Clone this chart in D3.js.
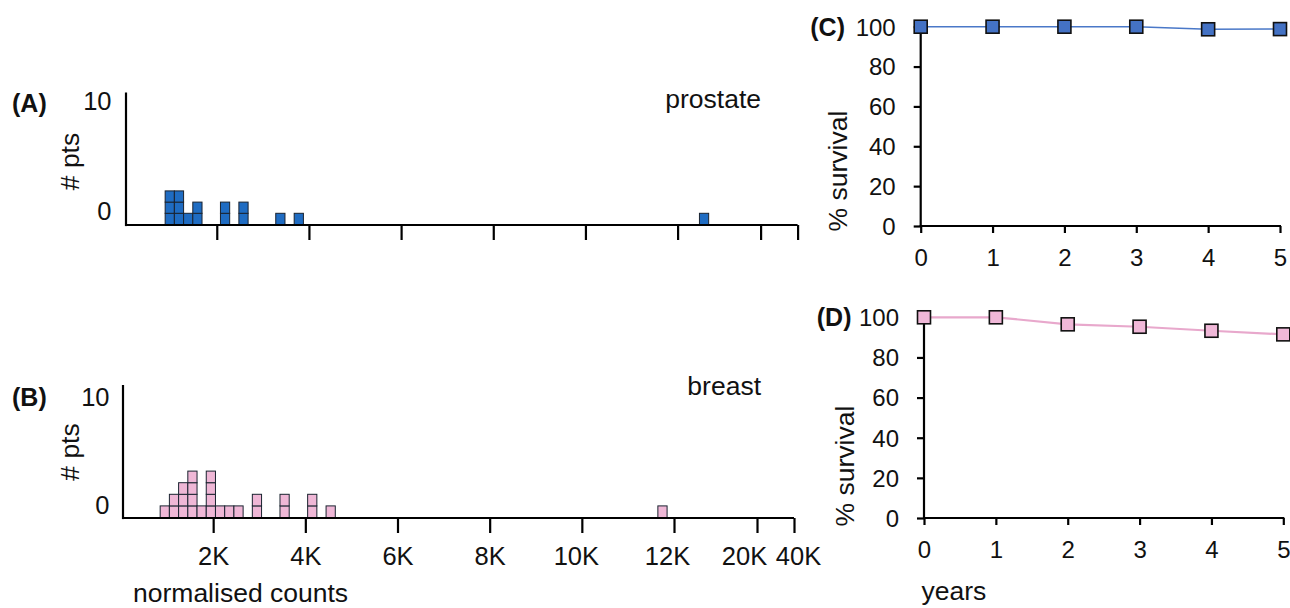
<!DOCTYPE html>
<html><head><meta charset="utf-8">
<script src="https://cdn.jsdelivr.net/npm/d3@7"></script>
<style>
html,body{margin:0;padding:0;background:#fff;}
svg{display:block;font-family:"Liberation Sans",Arial,sans-serif;}
</style></head>
<body>
<svg id="chart" width="1290" height="608"></svg>
<script>
// ---------------- data ----------------
const histTickValues = [2000, 4000, 6000, 8000, 10000, 12000, 20000, 40000];
const histTickLabels = ["2K", "4K", "6K", "8K", "10K", "12K", "20K", "40K"];
const countTickValues = [0, 10];

const prostateBins   = [980, 1180, 1380, 1580, 2180, 2580, 3380, 3780, 14550];
const prostateCounts = [3, 3, 1, 2, 2, 2, 1, 1, 1];

const breastBins   = [950, 1150, 1350, 1550, 1750, 1950, 2150, 2350, 2550, 2950, 3550, 4150, 4550, 11750];
const breastCounts = [1, 2, 3, 4, 1, 4, 1, 1, 1, 2, 2, 2, 1, 1];

const years = [0, 1, 2, 3, 4, 5];
const survivalTicks = [0, 20, 40, 60, 80, 100];
const prostateSurvival = [100, 100, 100, 100, 98.7, 98.8];
const breastSurvival   = [100, 100, 96.5, 95.3, 93.3, 91.5];

// ---------------- style ----------------
const FS_TICK = 24;         // survival tick labels
const FS_K = 25.5;          // histogram labels
const FS_LAB = 26.5;        // axis titles / names
const FS_TAG = 25;          // bold panel tags
const kLabelShift = [0, 0, 0, 0, -6, -7, -13, 4];  // label nudges to avoid overlap
const BLUE_CELL = "#1f6cc2", PINK_CELL = "#efb7d6";
const BLUE_MARK = "#4472c4", PINK_MARK = "#f0b8d8";
const BLUE_LINE = "#4a78c8", PINK_LINE = "#e8a8cc";
const INK = "#111";

const svg = d3.select("#chart");

function stext(x, y, txt, o = {}) {
  return svg.append("text")
    .attr("x", x).attr("y", y)
    .attr("text-anchor", o.anchor || "start")
    .attr("dominant-baseline", o.central ? "central" : null)
    .attr("font-size", o.size || FS_LAB)
    .attr("font-weight", o.bold ? "bold" : "normal")
    .attr("fill", INK)
    .text(txt);
}
function rtext(x, y, txt) {
  return svg.append("text")
    .attr("transform", `translate(${x},${y}) rotate(-90)`)
    .attr("text-anchor", "middle")
    .attr("dominant-baseline", "central")
    .attr("font-size", FS_LAB)
    .attr("fill", INK)
    .text(txt);
}

// ---------------- histogram panels ----------------
function histPanel(p) {
  const x = d3.scaleLinear()
    .domain([0, 12000, 20000, 40000])
    .range([p.x0, p.x0 + 553, p.x0 + 636, p.x0 + 673]);
  const cw = x(200) - x(0);
  const yc = d3.scaleLinear().domain([0, 1]).range([p.base, p.base - p.ch]);
  const ylab = d3.scaleLinear().domain([0, 10]).range([p.lab0, p.lab10]);

  // cells
  const cells = [];
  p.bins.forEach((b, i) => { for (let k = 0; k < p.counts[i]; k++) cells.push({ b, k }); });
  svg.append("g").selectAll("rect").data(cells).join("rect")
    .attr("x", d => x(d.b) - cw / 2)
    .attr("y", d => yc(d.k + 1))
    .attr("width", cw)
    .attr("height", yc(0) - yc(1))
    .attr("fill", p.fill)
    .attr("stroke", "#1a2330")
    .attr("stroke-width", 1);

  // x axis
  const gx = svg.append("g").attr("transform", `translate(0,${p.base + 0.5})`)
    .call(d3.axisBottom(x).tickValues(histTickValues).tickSize(15).tickSizeOuter(0)
      .tickFormat((d, i) => histTickLabels[i]));
  gx.select(".domain").attr("stroke", "#000").attr("stroke-width", 2.2).attr("d", `M${p.yAxisX},0H${x(40000)}`);
  gx.selectAll(".tick line").attr("stroke", "#000").attr("stroke-width", 2.2);
  gx.selectAll(".tick text")
    .attr("y", 38.5).attr("dy", "0.35em")
    .attr("x", (d, i) => kLabelShift[i])
    .attr("font-size", FS_K).attr("fill", INK)
    .attr("font-family", "Liberation Sans, Arial, sans-serif")
    .style("display", p.showLabels ? null : "none");

  // y axis line
  svg.append("line").attr("x1", p.yAxisX).attr("x2", p.yAxisX)
    .attr("y1", p.top).attr("y2", p.base + 1.6)
    .attr("stroke", "#000").attr("stroke-width", 2.2);
  // y labels
  const gy = svg.append("g").attr("transform", `translate(${p.labRight},0)`)
    .call(d3.axisLeft(ylab).tickValues(countTickValues).tickSize(0).tickPadding(0));
  gy.select(".domain").remove();
  gy.selectAll(".tick text").attr("x", 0)
    .attr("font-size", FS_K).attr("fill", INK)
    .attr("font-family", "Liberation Sans, Arial, sans-serif");

  stext(12, p.tagY, p.tag, { bold: true, central: true, size: FS_TAG });
  rtext(70, p.ptsY, "# pts");
  stext(761, p.nameY, p.name, { anchor: "end" });
}

histPanel({ tag: "(A)", tagY: 103, name: "prostate", nameY: 108, bins: prostateBins, counts: prostateCounts,
  fill: BLUE_CELL, x0: 124.6, yAxisX: 126, base: 224.5, ch: 11.2, top: 92.5,
  lab0: 211, lab10: 101.7, labRight: 111.5, ptsY: 161.5, showLabels: false });
histPanel({ tag: "(B)", tagY: 396.5, name: "breast", nameY: 395, bins: breastBins, counts: breastCounts,
  fill: PINK_CELL, x0: 121, yAxisX: 123, base: 517.5, ch: 11.6, top: 385,
  lab0: 505.8, lab10: 397.5, labRight: 109.5, ptsY: 452, showLabels: true });

stext(133, 601.5, "normalised counts");

// ---------------- survival panels ----------------
function survPanel(p) {
  const x = d3.scaleLinear().domain([0, 5]).range([p.x0, p.x1]);
  const y = d3.scaleLinear().domain([0, 100]).range([p.y0, p.y100]);

  const gx = svg.append("g").attr("transform", `translate(0,${p.y0})`)
    .call(d3.axisBottom(x).tickValues(years).tickSize(7).tickSizeOuter(0).tickFormat(d3.format("d")));
  const gy = svg.append("g").attr("transform", `translate(${p.x0},0)`)
    .call(d3.axisLeft(y).tickValues(survivalTicks).tickSize(7).tickSizeOuter(0));
  [gx, gy].forEach(g => {
    g.select(".domain").attr("stroke", "#000").attr("stroke-width", 2.2);
    g.selectAll(".tick line").attr("stroke", "#000").attr("stroke-width", 2.2);
    g.selectAll(".tick text").attr("font-size", FS_TICK).attr("fill", INK)
      .attr("font-family", "Liberation Sans, Arial, sans-serif");
  });
  gx.select(".domain").attr("d", `M${p.x0 - 1},0H${p.x1 + 1}`);
  gy.select(".domain").attr("d", `M0,${p.y100}V${p.y0 + 1}`);
  gx.selectAll(".tick text").attr("y", 31.5).attr("dy", "0.35em");
  gy.selectAll(".tick text").attr("x", -25).attr("dy", "0.35em");

  const line = d3.line().x((d, i) => x(years[i])).y(d => y(d));
  svg.append("path").datum(p.values).attr("d", line)
    .attr("fill", "none").attr("stroke", p.lineColor).attr("stroke-width", p.lineW);
  const ms = 13;
  svg.append("g").selectAll("rect").data(p.values).join("rect")
    .attr("x", (d, i) => x(years[i]) - ms / 2)
    .attr("y", d => y(d) - ms / 2)
    .attr("width", ms).attr("height", ms)
    .attr("fill", p.fill).attr("stroke", "#111").attr("stroke-width", 1.6);

  stext(p.tagRight, p.y100, p.tag, { bold: true, central: true, anchor: "end", size: FS_TAG });
  rtext(p.titleX, p.titleY, "% survival");
}

survPanel({ tag: "(C)", tagRight: 845, values: prostateSurvival, fill: BLUE_MARK, lineColor: BLUE_LINE, lineW: 1.5,
  x0: 920.7, x1: 1280, y0: 226, y100: 26.7, titleX: 837.5, titleY: 171 });
survPanel({ tag: "(D)", tagRight: 851.5, values: breastSurvival, fill: PINK_MARK, lineColor: PINK_LINE, lineW: 2.2,
  x0: 924, x1: 1283.3, y0: 518, y100: 317.3, titleX: 845, titleY: 466 });

stext(921.5, 599.5, "years");
</script>
</body></html>
